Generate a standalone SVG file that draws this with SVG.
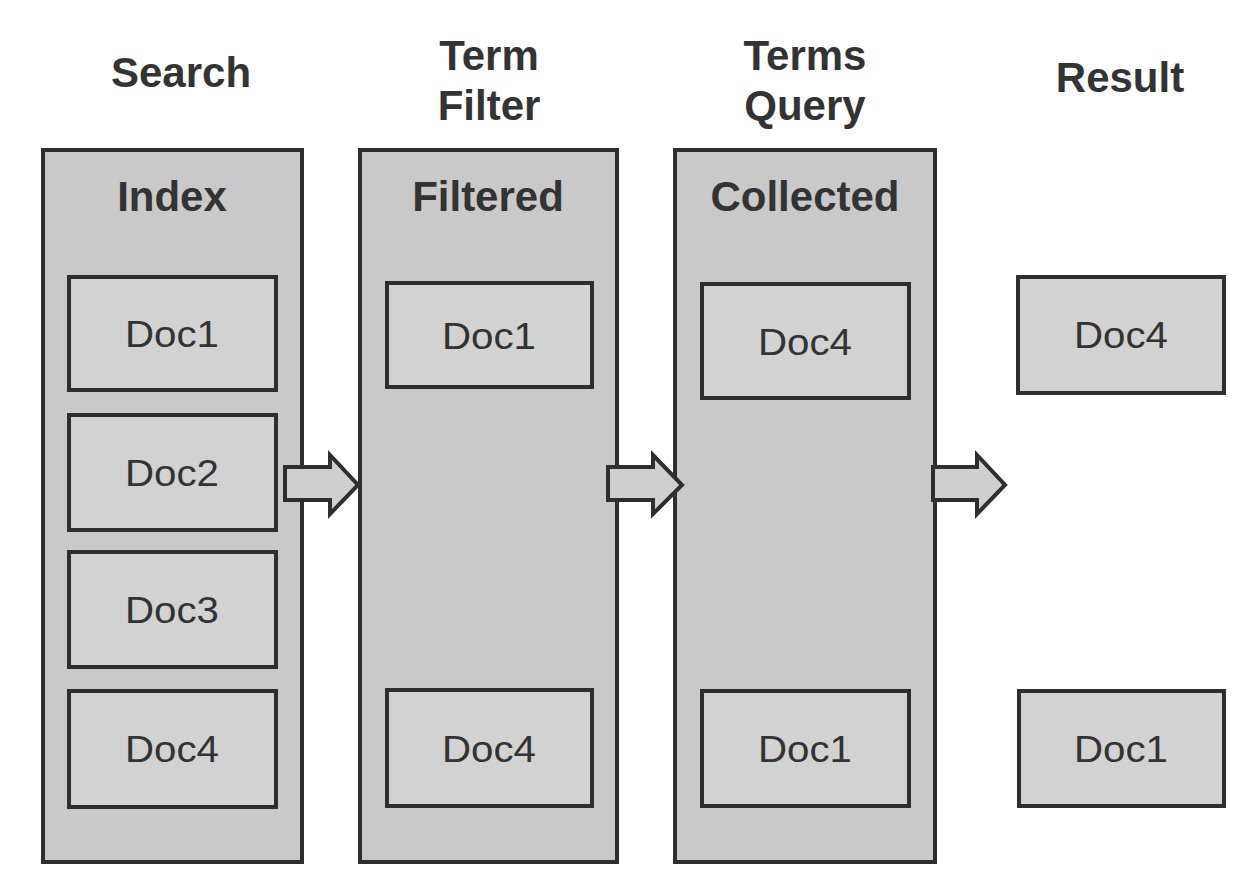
<svg xmlns="http://www.w3.org/2000/svg" width="1251" height="887" viewBox="0 0 1251 887">
<style>
.col{fill:#c9c9c9;stroke:#2e2e2e;stroke-width:4}
.doc{fill:#d2d2d2;stroke:#2e2e2e;stroke-width:4}
.t{font-family:"Liberation Sans",Arial,sans-serif;font-weight:bold;font-size:42px;fill:#333;text-anchor:middle}
.d{font-family:"Liberation Sans",Arial,sans-serif;font-size:37px;fill:#333;text-anchor:middle}
.arr{fill:#cfcfcf;stroke:#2e2e2e;stroke-width:4;stroke-linejoin:miter}
</style>
<rect width="1251" height="887" fill="#fff"/>
<g id="titles">
<text class="t" x="181" y="87">Search</text>
<text class="t" x="489" y="70">Term</text>
<text class="t" x="489" y="120">Filter</text>
<text class="t" x="805" y="70">Terms</text>
<text class="t" x="805" y="120">Query</text>
<text class="t" x="1120" y="92">Result</text>
</g>
<g id="index">
<rect class="col" x="43" y="150" width="259" height="712"/>
<text class="t" x="172" y="211">Index</text>
</g>
<g id="filtered">
<rect class="col" x="360" y="150" width="257" height="712"/>
<text class="t" x="488" y="211">Filtered</text>
</g>
<g id="collected">
<rect class="col" x="675" y="150" width="260" height="712"/>
<text class="t" x="805" y="211">Collected</text>
</g>
<g id="idx-doc1"><rect class="doc" x="69" y="277" width="207" height="113"/><text class="d" x="172" y="347" textLength="94" lengthAdjust="spacingAndGlyphs">Doc1</text></g>
<g id="idx-doc2"><rect class="doc" x="69" y="415" width="207" height="115"/><text class="d" x="172" y="486" textLength="94" lengthAdjust="spacingAndGlyphs">Doc2</text></g>
<g id="idx-doc3"><rect class="doc" x="69" y="552" width="207" height="115"/><text class="d" x="172" y="623" textLength="94" lengthAdjust="spacingAndGlyphs">Doc3</text></g>
<g id="idx-doc4"><rect class="doc" x="69" y="691" width="207" height="116"/><text class="d" x="172" y="762" textLength="94" lengthAdjust="spacingAndGlyphs">Doc4</text></g>
<g id="flt-doc1"><rect class="doc" x="387" y="283" width="205" height="104"/><text class="d" x="489" y="349" textLength="94" lengthAdjust="spacingAndGlyphs">Doc1</text></g>
<g id="flt-doc4"><rect class="doc" x="387" y="690" width="205" height="116"/><text class="d" x="489" y="762" textLength="94" lengthAdjust="spacingAndGlyphs">Doc4</text></g>
<g id="col-doc4"><rect class="doc" x="702" y="284" width="207" height="114"/><text class="d" x="805" y="355" textLength="94" lengthAdjust="spacingAndGlyphs">Doc4</text></g>
<g id="col-doc1"><rect class="doc" x="702" y="691" width="207" height="115"/><text class="d" x="805" y="762" textLength="94" lengthAdjust="spacingAndGlyphs">Doc1</text></g>
<g id="res-doc4"><rect class="doc" x="1018" y="277" width="206" height="116"/><text class="d" x="1121" y="348" textLength="94" lengthAdjust="spacingAndGlyphs">Doc4</text></g>
<g id="res-doc1"><rect class="doc" x="1019" y="691" width="205" height="115"/><text class="d" x="1121" y="762" textLength="94" lengthAdjust="spacingAndGlyphs">Doc1</text></g>
<g id="connectors">
<path class="arr" d="M285 467 H330 V455 L358 485 L330 514 V500 H285 Z"/>
<path class="arr" d="M608 467 H653 V455 L682 485 L653 514 V500 H608 Z"/>
<path class="arr" d="M933 467 H977 V455 L1005 485 L977 514 V500 H933 Z"/>
</g>
</svg>
